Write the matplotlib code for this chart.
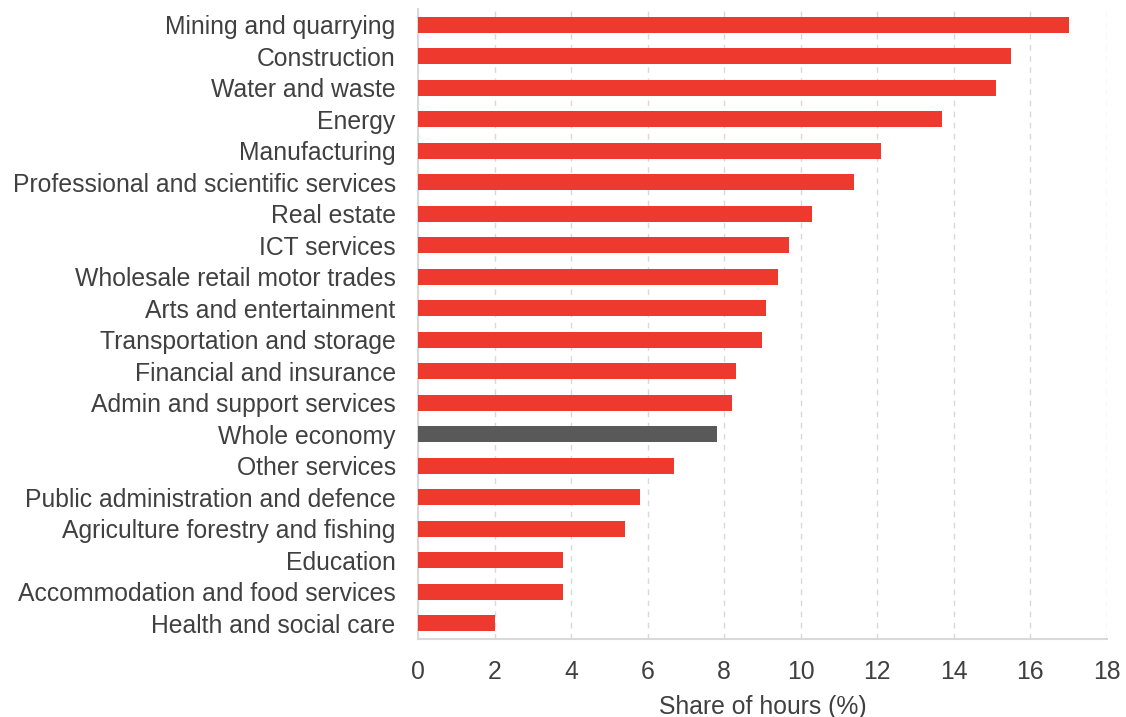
import matplotlib
matplotlib.use("Agg")
import matplotlib.pyplot as plt

plt.rcParams['font.family'] = ['Liberation Sans', 'DejaVu Sans']

categories = [
    "Mining and quarrying", "Construction", "Water and waste", "Energy",
    "Manufacturing", "Professional and scientific services", "Real estate",
    "ICT services", "Wholesale retail motor trades", "Arts and entertainment",
    "Transportation and storage", "Financial and insurance",
    "Admin and support services", "Whole economy", "Other services",
    "Public administration and defence", "Agriculture forestry and fishing",
    "Education", "Accommodation and food services", "Health and social care",
]
values = [17.0, 15.5, 15.1, 13.7, 12.1, 11.4, 10.3, 9.7, 9.4, 9.1,
          9.0, 8.3, 8.2, 7.8, 6.7, 5.8, 5.4, 3.8, 3.8, 2.0]
xticks = [0, 2, 4, 6, 8, 10, 12, 14, 16, 18]

red = "#EE3A2E"
grey = "#595959"
text_col = "#404040"
colors = [grey if c == "Whole economy" else red for c in categories]

fs = 17.8
fig = plt.figure(figsize=(11.26, 7.17), dpi=100)
ax = fig.add_axes([0.3712, 0.1088, 0.6119, 0.8786])

y = list(range(len(categories)))
ax.barh(y, values, height=0.5, color=colors, zorder=3)
ax.set_ylim(len(categories) - 0.5, -0.5)
ax.set_xlim(0, 18)
ax.set_yticks(y)
ax.set_yticklabels(categories, fontsize=fs, color=text_col)
ax.set_xticks(xticks)
ax.set_xticklabels([str(t) for t in xticks], fontsize=fs, color=text_col)
ax.tick_params(axis='y', length=0, pad=16)
ax.tick_params(axis='x', length=0, pad=15)
ax.grid(axis='x', color='#D9D9D9', linestyle=(0, (4, 4)), linewidth=1, zorder=0)
for s in ['top', 'right']:
    ax.spines[s].set_visible(False)
ax.spines['left'].set_color('#D9D9D9')
ax.spines['left'].set_linewidth(1.5)
ax.spines['bottom'].set_color('#D9D9D9')
ax.spines['bottom'].set_linewidth(1.5)
ax.set_xlabel("Share of hours (%)", fontsize=fs, color=text_col, labelpad=8)

fig.savefig("out.png", dpi=100)
